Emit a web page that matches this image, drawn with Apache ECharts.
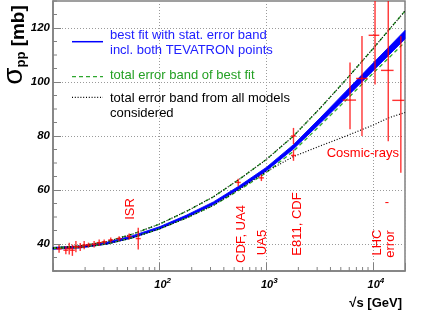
<!DOCTYPE html>
<html><head><meta charset="utf-8">
<script src="https://cdn.jsdelivr.net/npm/echarts@6/dist/echarts.min.js"></script>
<style>html,body{margin:0;padding:0;background:#fff}#c{width:425px;height:311px}</style>
</head><body><div id="c"></div>
<script>
// ---- data ----
const fitS        = [10, 18, 32, 56, 100, 180, 320, 560, 1000, 1800, 3200, 5600, 10000, 14000, 20000];
const fitStatLow  = [38.05, 38.55, 39.95, 42.3, 45.6, 49.85, 54.6, 60.45, 67.05, 75.2, 84.7, 94.2, 104.1, 109.8, 115.9];
const fitStatHigh = [38.75, 39.25, 40.65, 43.1, 46.4, 50.75, 55.6, 61.55, 68.35, 76.8, 86.7, 96.6, 106.9, 112.8, 119.1];
const totalUpper  = [38.6, 39.3, 40.9, 43.7, 47.4, 52.2, 57.5, 64.0, 71.3, 80.0, 90.3, 100.9, 112.3, 119.1, 126.3];
const totalLower  = [38.3, 38.7, 40.0, 42.35, 45.6, 49.7, 54.3, 60.0, 66.4, 74.4, 83.9, 93.3, 103.2, 108.8, 114.8];
const modelsUpper = [38.6, 39.3, 40.9, 43.7, 47.4, 52.2, 57.5, 64.0, 71.3, 80.0, 90.3, 100.9, 112.3, 119.1, 126.3];
const modelsLower = [38.3, 38.7, 40.0, 42.3, 45.6, 49.7, 54.3, 60.3, 66.8, 72.4, 76.3, 80.0, 84.0, 86.7, 88.7];

const accS     = [11.4, 13.2, 14.2, 15.2, 16.4, 18.0, 19.6, 21.5, 24.3, 27.1, 30.2, 34.8, 41.7, 51.8, 63.0, 546, 900, 1800, 1800];
const accSigma = [38.2, 37.7, 38.3, 37.7, 39.0, 38.9, 39.6, 39.6, 39.9, 40.5, 40.8, 41.5, 42.0, 42.8, 42.0, 62.8, 64.5, 80.0, 72.8];
const accErr   = [1.4, 1.5, 2.2, 2.1, 2.1, 1.5, 1.5, 0.9, 1.2, 1.2, 0.9, 0.9, 0.9, 1.1, 4.0, 1.4, 1.2, 3.0, 2.0];

const crS      = [6100, 7900, 10470, 13930, 18280];
const crSLow   = [5200, 6950, 9120, 11900, 15200];
const crSHigh  = [6950, 8930, 11480, 15630, 19700];
const crSigma  = [93.3, 101.3, 117.3, 104.3, 93.2];
const crLow    = [82.5, 80.0, 99.1, 78.1, 66.4];
const crHigh   = [107.2, 117.0, 135.5, 130.5, 117.0];

const yTicks      = [40, 60, 80, 100, 120];
const yMinorTicks = [30,35,45,50,55,65,70,75,85,90,95,105,110,115,125,130];
const xTicks      = [100, 1000, 10000];
const xTickExp    = ['2', '3', '4'];
const xMinorTicks = [20,30,40,50,60,70,80,90,200,300,400,500,600,700,800,900,2000,3000,4000,5000,6000,7000,8000,9000];

// ---- chart ----
const F = 'Liberation Sans, Arial, sans-serif';
const chart = echarts.init(document.getElementById('c'), null, {renderer: 'canvas'});
const AX = '#808080';
const RED = 'rgba(255,0,0,0.8)';

function clampY(cs, y) { return Math.max(cs.y, Math.min(cs.y + cs.height, y)); }

function errRender(params, api) {
  const cs = params.coordSys;
  const x = api.value(0), y = api.value(1), lo = api.value(2), hi = api.value(3), xl = api.value(4), xh = api.value(5);
  const p = api.coord([x, y]);
  const yl = clampY(cs, api.coord([x, lo])[1]);
  const yh = clampY(cs, api.coord([x, hi])[1]);
  let h1, h2;
  if (xl > 0) { h1 = api.coord([xl, y])[0]; h2 = Math.min(cs.x + cs.width, api.coord([xh, y])[0]); }
  else { h1 = p[0] - 2.5; h2 = p[0] + 2.5; }
  const st = {stroke: RED, lineWidth: 1.4};
  const ch = [{type: 'line', shape: {x1: p[0], y1: yl, x2: p[0], y2: yh}, style: st}];
  if (p[1] >= cs.y && p[1] <= cs.y + cs.height)
    ch.push({type: 'line', shape: {x1: h1, y1: p[1], x2: h2, y2: p[1]}, style: st});
  return {type: 'group', children: ch};
}

function bandRender(params, api) {
  if (params.dataIndex !== 0) return null;
  const pts = [];
  for (let i = 0; i < fitS.length; i++) pts.push(api.coord([fitS[i], fitStatLow[i]]));
  for (let i = fitS.length - 1; i >= 0; i--) pts.push(api.coord([fitS[i], fitStatHigh[i]]));
  return {type: 'polygon', shape: {points: pts}, style: {fill: '#0000ff', stroke: '#0000ff', lineWidth: 0.9}};
}

function xMinorRender(params, api) {
  const p = api.coord([api.value(0), 30]);
  return {type: 'line', shape: {x1: p[0], y1: p[1], x2: p[0], y2: p[1] - 4}, style: {stroke: AX, lineWidth: 1}};
}
function yMinorRender(params, api) {
  const p = api.coord([10, api.value(1)]);
  return {type: 'line', shape: {x1: p[0], y1: p[1], x2: p[0] + 4, y2: p[1]}, style: {stroke: AX, lineWidth: 1}};
}

function pair(xs, ys) { return xs.map((s, i) => [s, ys[i]]); }

const redText = (t, x, y, rot, align) => ({
  type: 'text', x: x, y: y, rotation: rot ? Math.PI / 2 : 0, silent: true, z: 100,
  style: {text: t, fill: '#ff0000', font: '13px ' + F, textAlign: align || 'center', textVerticalAlign: 'middle'}
});
const legText = (t, x, y, c) => ({
  type: 'text', x: x, y: y, silent: true, z: 100,
  style: {text: t, fill: c, font: '13px ' + F, textAlign: 'left', textVerticalAlign: 'middle'}
});

const option = {
  animation: false,
  grid: {left: 53, right: 20, top: 1, bottom: 40, show: true, borderColor: AX, borderWidth: 1.5, backgroundColor: 'transparent'},
  xAxis: {
    type: 'log', logBase: 10, min: 10, max: 20000,
    axisLine: {show: true, onZero: false, lineStyle: {color: AX, width: 1.5}},
    axisTick: {show: true, inside: true, length: 8, lineStyle: {color: AX, width: 1}},
    minorTick: {show: false},
    splitLine: {show: true, lineStyle: {color: '#9a9a9a', width: 1, type: [1, 2]}},
    axisLabel: {
      margin: 6, padding: [0, 0, 0, 6],
      formatter: v => { const i = xTicks.findIndex(t => Math.abs(t - v) / t < 1e-6); return i < 0 ? '' : '{b|10}{s|' + xTickExp[i] + '}'; },
      rich: {
        b: {fontSize: 11, fontWeight: 'bold', fontStyle: 'italic', fontFamily: F, color: '#000'},
        s: {fontSize: 8, fontWeight: 'bold', fontStyle: 'italic', fontFamily: F, color: '#000', padding: [0, 0, 8, 0]}
      }
    }
  },
  yAxis: {
    type: 'value', min: 30, max: 130,
    axisLine: {show: true, onZero: false, lineStyle: {color: AX, width: 1.5}},
    axisTick: {show: true, inside: true, length: 8, customValues: yTicks, lineStyle: {color: AX, width: 1}},
    splitLine: {show: true, lineStyle: {color: '#9a9a9a', width: 1, type: [1, 2]}},
    axisLabel: {customValues: yTicks, margin: 3, fontSize: 11.5, fontWeight: 'bold', fontStyle: 'italic', fontFamily: F, color: '#000'}
  },
  graphic: [
    {type: 'text', x: 14, y: 45, rotation: Math.PI / 2, silent: true,
     style: {text: '{g|σ}{p|pp}{t| [mb]}', textAlign: 'center', textVerticalAlign: 'middle',
       rich: {g: {fontSize: 28, fontFamily: F, fill: '#000', verticalAlign: 'bottom'},
              p: {fontSize: 13, fontFamily: F, fontWeight: 'bold', fill: '#000', verticalAlign: 'bottom'},
              t: {fontSize: 19, fontFamily: F, fontWeight: 'bold', fill: '#000', verticalAlign: 'bottom'}}}},
    {type: 'text', x: 402, y: 303, silent: true,
     style: {text: '√s [GeV]', fill: '#000', font: 'bold 13px ' + F, textAlign: 'right', textVerticalAlign: 'middle'}},
    // legend
    {type: 'line', shape: {x1: 72, y1: 41.7, x2: 103, y2: 41.7}, style: {stroke: '#0000ff', lineWidth: 1.5}, z: 100},
    legText('best fit with stat. error band', 110, 35, '#2020ff'),
    legText('incl. both TEVATRON points', 110, 50.7, '#2020ff'),
    {type: 'line', shape: {x1: 72, y1: 76.7, x2: 103, y2: 76.7}, style: {stroke: '#2ea62e', lineWidth: 1.2, lineDash: [4, 3]}, z: 100},
    legText('total error band of best fit', 110, 75, '#23a023'),
    {type: 'line', shape: {x1: 72, y1: 97.3, x2: 103, y2: 97.3}, style: {stroke: '#000', lineWidth: 1.2, lineDash: [1, 1.8]}, z: 100},
    legText('total error band from all models', 110, 98.3, '#000'),
    legText('considered', 110, 113.3, '#000'),
    // annotations
    redText('ISR', 130.5, 209, true),
    redText('CDF, UA4', 241, 234, true),
    redText('UA5', 262.5, 242.5, true),
    redText('E811, CDF', 297.5, 224, true),
    redText('LHC', 377.5, 242.5, true),
    redText('error', 390.5, 244, true),
    redText('-', 387, 202, false),
    redText('Cosmic-rays', 326.7, 153, false, 'left')
  ],
  series: [
    {type: 'custom', name: 'band', renderItem: bandRender, data: pair(fitS, fitStatLow), z: 2, silent: true},
    {type: 'line', name: 'totalUpper', data: pair(fitS, totalUpper), showSymbol: false, z: 3, silent: true,
     lineStyle: {color: '#2ea62e', width: 1.3, type: [4, 3]}},
    {type: 'line', name: 'totalLower', data: pair(fitS, totalLower), showSymbol: false, z: 3, silent: true,
     lineStyle: {color: '#2ea62e', width: 1.3, type: [4, 3]}},
    {type: 'line', name: 'modelsUpper', data: pair(fitS, modelsUpper), showSymbol: false, z: 4, silent: true,
     lineStyle: {color: '#000', width: 1.2, type: [1, 1.8]}},
    {type: 'line', name: 'modelsLower', data: pair(fitS, modelsLower), showSymbol: false, z: 4, silent: true,
     lineStyle: {color: '#000', width: 1.2, type: [1, 1.8]}},
    {type: 'custom', name: 'acc', renderItem: errRender, z: 5, silent: true,
     data: accS.map((s, i) => [s, accSigma[i], accSigma[i] - accErr[i], accSigma[i] + accErr[i], 0, 0])},
    {type: 'custom', name: 'cosmic', renderItem: errRender, z: 5, silent: true,
     data: crS.map((s, i) => [s, crSigma[i], crLow[i], crHigh[i], crSLow[i], crSHigh[i]])},
    {type: 'custom', name: 'xminor', renderItem: xMinorRender, z: 6, silent: true, data: xMinorTicks.map(v => [v, 30])},
    {type: 'custom', name: 'yminor', renderItem: yMinorRender, z: 6, silent: true, data: yMinorTicks.map(v => [10, v])}
  ]
};
chart.setOption(option);
</script>
</body></html>
